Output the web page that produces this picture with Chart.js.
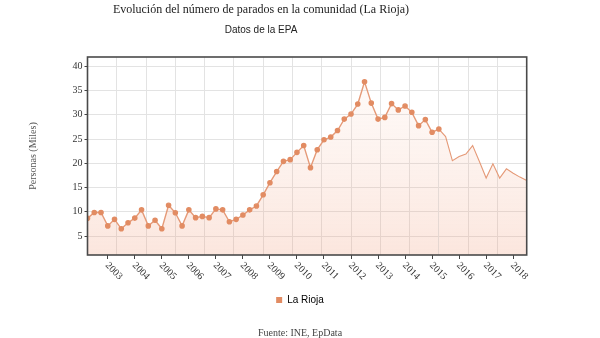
<!DOCTYPE html>
<html>
<head>
<meta charset="utf-8">
<script src="https://cdn.jsdelivr.net/npm/chart.js@4.4.1/dist/chart.umd.min.js"></script>
<style>
html, body { margin: 0; padding: 0; background: #fff; }
</style>
</head>
<body>
<canvas id="chart1" width="600" height="338"></canvas>
<script>
// Parados EPA en La Rioja (miles de personas), trimestral 2002T1 - 2018T2
var quarters = [];
for (let y = 2002; y <= 2018; y++) {
    for (let q = 1; q <= 4; q++) {
        if (y == 2018 && q > 2) break;
        quarters.push(y + 'T' + q);
    }
}
var parados = [
    8.65, 9.85, 9.85, 7.1, 8.45, 6.5, 7.75, 8.7,
    10.4, 7.1, 8.25, 6.5, 11.35, 9.8, 7.1, 10.4,
    8.8, 9.05, 8.8, 10.6, 10.4, 7.95, 8.45, 9.35,
    10.4, 11.2, 13.5, 16.0, 18.3, 20.4, 20.75, 22.25,
    23.65, 19.1, 22.8, 24.85, 25.4, 26.75, 29.1, 30.15,
    32.2, 36.8, 32.4, 29.1, 29.45, 32.3, 31.0, 31.8,
    30.5, 27.75, 29.0, 26.4, 27.05, 25.5, 20.55, 21.4,
    21.9, 23.65, 20.35, 16.95, 19.9, 16.95, 18.85, 17.95,
    17.15, 16.45
];
var yearLabels = ['2003', '2004', '2005', '2006', '2007', '2008', '2009', '2010',
    '2011', '2012', '2013', '2014', '2015', '2016', '2017', '2018'];
var yTicks = [5, 10, 15, 20, 25, 30, 35, 40];
var titulo = 'Evolución del número de parados en la comunidad (La Rioja)';
var subtitulo = 'Datos de la EPA';
var fuente = 'Fuente: INE, EpData';
var serieNombre = 'La Rioja';

var naranja = '#e28c63';

// cada trimestre se coloca al final del periodo (2002T1 -> 2002.25)
function quarterToX(label) {
    return parseInt(label) + parseInt(label.split('T')[1]) * 0.25;
}
var puntos = quarters.map((qt, i) => ({ x: quarterToX(qt), y: parados[i] }));

var textPlugin = {
    id: 'textos',
    afterDatasetsDraw(chart) {
        const ctx = chart.ctx;
        const a = chart.chartArea;
        ctx.save();
        ctx.strokeStyle = '#4a4a4a';
        ctx.lineWidth = 1.6;
        ctx.strokeRect(a.left, a.top, a.right - a.left, a.bottom - a.top);
        ctx.restore();
    },
    afterDraw(chart) {
        const ctx = chart.ctx;
        const a = chart.chartArea;
        ctx.save();
        ctx.textAlign = 'center';
        ctx.textBaseline = 'middle';
        ctx.fillStyle = '#222';
        ctx.font = '12px "Liberation Serif"';
        ctx.fillText(titulo, 261, 9.5);
        ctx.font = '10px "Liberation Sans"';
        ctx.fillText(subtitulo, 261, 30);
        ctx.fillStyle = '#444';
        ctx.font = '10px "Liberation Serif"';
        ctx.fillText(fuente, 300, 333);

        // etiquetas del eje x giradas 45 grados
        const xs = chart.scales.x;
        ctx.fillStyle = '#333';
        ctx.textAlign = 'left';
        xs.ticks.forEach((t, i) => {
            const px = xs.getPixelForValue(t.value);
            ctx.save();
            ctx.translate(px - 1, a.bottom + 9);
            ctx.rotate(Math.PI / 4);
            ctx.fillText(yearLabels[i], 0, 0);
            ctx.restore();
        });
        ctx.restore();
    }
};

var chart1Ctx = document.getElementById('chart1').getContext('2d');
var chart1 = new Chart(chart1Ctx, {
    type: 'line',
    data: {
        labels: quarters,
        datasets: [{
            label: serieNombre,
            data: puntos,
            borderColor: '#e59a78',
            borderWidth: 1.4,
            pointBackgroundColor: naranja,
            pointBorderColor: naranja,
            pointRadius: ctx => ctx.dataIndex < 53 ? 2.1 : 0,
            pointHoverRadius: 0,
            tension: 0,
            segment: {
                borderWidth: ctx => ctx.p0DataIndex >= 52 ? 1.1 : 1.4
            },
            fill: 'start',
            backgroundColor: function (context) {
                const area = context.chart.chartArea;
                if (!area) return 'rgba(240,150,110,0.15)';
                const g = context.chart.ctx.createLinearGradient(0, area.top, 0, area.bottom);
                g.addColorStop(0, 'rgba(245,190,165,0.05)');
                g.addColorStop(1, 'rgba(240,150,115,0.24)');
                return g;
            }
        }]
    },
    options: {
        responsive: false,
        animation: false,
        layout: {
            padding: { top: 57, right: 0, left: 0, bottom: 23 }
        },
        scales: {
            x: {
                type: 'linear',
                position: 'bottom',
                min: quarterToX(quarters[0]),
                max: quarterToX(quarters[quarters.length - 1]),
                afterBuildTicks: s => { s.ticks = yearLabels.map(l => ({ value: +l })); },
                ticks: { display: false },
                grid: { drawOnChartArea: false, drawTicks: true, tickLength: 4, tickColor: '#444' },
                border: { display: false },
                afterFit: s => { s.height = 14; }
            },
            xg: {
                type: 'linear',
                position: 'top',
                min: 0,
                max: 15,
                ticks: { display: false, stepSize: 1 },
                grid: { color: '#e3e3e3', drawTicks: false },
                border: { display: false },
                afterFit: s => { s.height = 0; }
            },
            y: {
                min: 1.1,
                max: 41.9,
                afterBuildTicks: s => { s.ticks = yTicks.map(v => ({ value: v })); },
                ticks: {
                    color: '#333',
                    padding: 2,
                    font: { family: 'Liberation Serif', size: 10 }
                },
                grid: { color: '#e3e3e3', tickColor: '#444', tickLength: 3 },
                border: { display: false },
                title: {
                    display: true,
                    text: 'Personas (Miles)',
                    color: '#555',
                    font: { family: 'Liberation Serif', size: 10 },
                    padding: { top: 27, bottom: 0 }
                },
                afterFit: s => { s.width = 87.5; }
            },
            // eje vacío a la derecha para reservar el margen
            yr: {
                position: 'right',
                min: 0,
                max: 1,
                ticks: { display: false },
                grid: { display: false },
                border: { display: false },
                afterFit: s => { s.width = 73.3; }
            }
        },
        plugins: {
            legend: {
                position: 'bottom',
                labels: {
                    boxWidth: 6,
                    boxHeight: 6,
                    padding: 26,
                    color: '#222',
                    font: { family: 'Liberation Sans', size: 10 },
                    generateLabels: () => [{
                        text: serieNombre,
                        fillStyle: naranja,
                        strokeStyle: naranja,
                        lineWidth: 0,
                        hidden: false,
                        datasetIndex: 0
                    }]
                }
            },
            tooltip: { enabled: false }
        }
    },
    plugins: [textPlugin]
});
</script>
</body>
</html>
